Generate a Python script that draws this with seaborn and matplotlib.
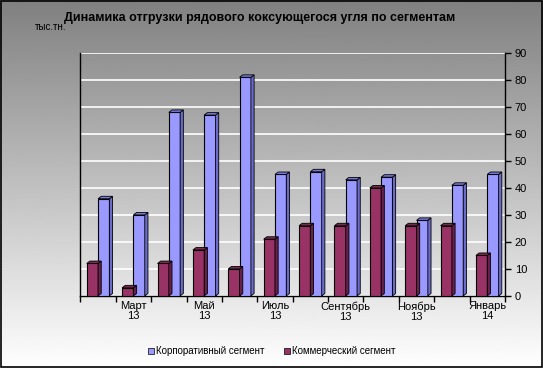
import numpy as np
import pandas as pd
import matplotlib
matplotlib.use("Agg")
import matplotlib.pyplot as plt
from matplotlib.patches import Polygon, Patch
import seaborn as sns

months = ["Февраль\n13", "Март\n13", "Апрель\n13", "Май\n13", "Июнь\n13", "Июль\n13",
          "Август\n13", "Сентябрь\n13", "Октябрь\n13", "Ноябрь\n13", "Декабрь\n13", "Январь\n14"]
shown_labels = ["", "Март\n13", "", "Май\n13", "", "Июль\n13",
                "", "Сентябрь\n13", "", "Ноябрь\n13", "", "Январь\n14"]
corporate = [36, 30, 68, 67, 81, 45, 46, 43, 44, 28, 41, 45]
commercial = [12, 3, 12, 17, 10, 21, 26, 26, 40, 26, 26, 15]
series_names = ["Коммерческий сегмент", "Корпоративный сегмент"]
yticks = list(range(0, 91, 10))

df = pd.DataFrame({
    "month": months * 2,
    "value": commercial + corporate,
    "segment": [series_names[0]] * len(months) + [series_names[1]] * len(months),
})

sns.set_theme(style="white")
plt.rcParams["font.family"] = ["Liberation Sans", "DejaVu Sans"]
plt.rcParams["text.color"] = "black"
plt.rcParams["xtick.color"] = "black"
plt.rcParams["ytick.color"] = "black"
plt.rcParams["xtick.labelcolor"] = "black"
plt.rcParams["ytick.labelcolor"] = "black"

fig = plt.figure(figsize=(5.43, 3.68), dpi=100)

# gradient background
bg = fig.add_axes([0, 0, 1, 1], zorder=-10)
grad = np.linspace(0.5, 1.0, 256).reshape(-1, 1)
bg.imshow(grad, cmap="gray", vmin=0, vmax=1, aspect="auto", extent=[0, 1, 0, 1], origin="upper")
bg.set_xlim(0, 1); bg.set_ylim(0, 1)
bg.axis("off")
bg.add_patch(plt.Rectangle((0.001, 0.002), 0.997, 0.995, fill=False, ec="black", lw=1.2,
                           transform=bg.transAxes))

ax = fig.add_axes([0.148, 0.196, 0.782, 0.66])
ax.set_facecolor("none")
palette = {series_names[0]: "#993366", series_names[1]: "#9999FF"}
sns.barplot(data=df, x="month", y="value", hue="segment", hue_order=series_names,
            palette=palette, width=0.64, edgecolor="black", linewidth=0.8,
            saturation=1, ax=ax, legend=False, zorder=3)

# 3D depth faces derived from drawn bars
dx, dy = 0.09, 0.9
side_col = {"#993366": "#66224a", "#9999ff": "#6b6bc8"}
top_col = {"#993366": "#7a2850", "#9999ff": "#7878d8"}
for p in list(ax.patches):
    x0, y0 = p.get_x(), p.get_y()
    w, h = p.get_width(), p.get_height()
    fc = matplotlib.colors.to_hex(p.get_facecolor()).lower()
    sc = side_col.get(fc, "#555555")
    tc = top_col.get(fc, "#555555")
    side = Polygon([[x0 + w, y0], [x0 + w + dx, y0 + dy], [x0 + w + dx, y0 + h + dy], [x0 + w, y0 + h]],
                   closed=True, fc=sc, ec="black", lw=0.6, zorder=3)
    top = Polygon([[x0, y0 + h], [x0 + dx, y0 + h + dy], [x0 + w + dx, y0 + h + dy], [x0 + w, y0 + h]],
                  closed=True, fc=tc, ec="black", lw=0.6, zorder=3)
    ax.add_patch(side); ax.add_patch(top)

ax.set_ylim(0, 90)
ax.set_xlim(-0.5, len(months) - 0.5)
ax.set_yticks(yticks)
ax.yaxis.tick_right()
ax.yaxis.set_label_position("right")
ax.tick_params(axis="y", right=True, length=4, width=1, colors="black", labelsize=8, pad=3)
ax.set_xticks(range(len(months)))
ax.set_xticklabels(shown_labels, fontsize=8, linespacing=1.0, color="black")
ax.tick_params(axis="x", bottom=False, length=0, pad=4, labelsize=8)
ax.set_xticks(np.arange(-0.5, len(months), 1.0), minor=True)
ax.tick_params(axis="x", which="minor", bottom=True, length=4, width=1, color="black")
ax.grid(axis="y", color="white", lw=1.2, zorder=0)
ax.set_axisbelow(True)
ax.set_xlabel(""); ax.set_ylabel("")
ax.spines["top"].set_visible(False)
for s in ["left", "right", "bottom"]:
    ax.spines[s].set_color("black")
    ax.spines[s].set_linewidth(1.0)

fig.text(0.479, 0.951, "Динамика отгрузки рядового коксующегося угля по сегментам",
         ha="center", va="center", fontsize=9, fontweight="bold", color="black")
fig.text(0.065, 0.927, "тыс.тн.", ha="left", va="center", fontsize=7, color="black")

handles = [Patch(fc=palette[series_names[1]], ec="black", lw=0.5),
           Patch(fc=palette[series_names[0]], ec="black", lw=0.5)]
fig.legend(handles, [series_names[1], series_names[0]], loc="center", bbox_to_anchor=(0.5, 0.045),
           ncol=2, frameon=False, fontsize=7, handlelength=0.6, handleheight=0.6,
           handletextpad=0.2, columnspacing=2.0, labelcolor="black")

fig.savefig("out.png", dpi=100)
